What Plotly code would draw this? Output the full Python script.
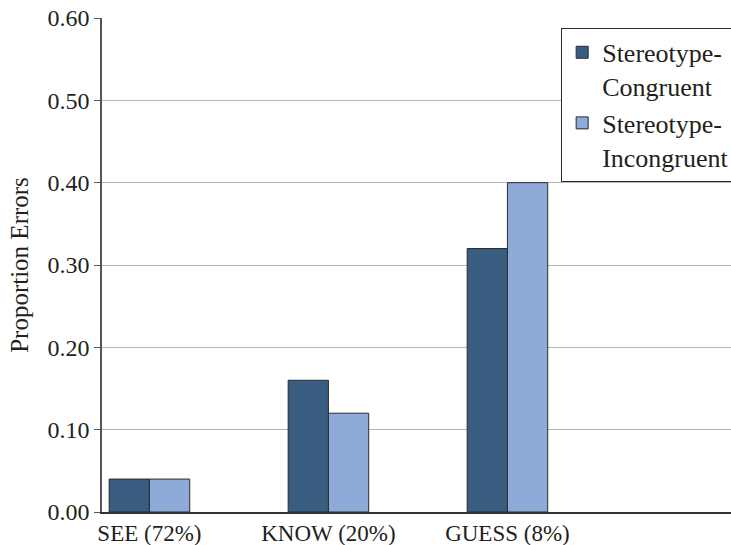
import plotly.graph_objects as go

categories = ["SEE (72%)", "KNOW (20%)", "GUESS (8%)"]
congruent = [0.04, 0.16, 0.32]
incongruent = [0.04, 0.12, 0.40]
series_names = ["Stereotype-<br>Congruent", "Stereotype-<br>Incongruent"]
y_ticks = [0.0, 0.1, 0.2, 0.3, 0.4, 0.5, 0.6]
y_ticktext = ["0.00", "0.10", "0.20", "0.30", "0.40", "0.50", "0.60"]

positions = list(range(len(categories)))
FONT = "Liberation Serif, Times New Roman, serif"

fig = go.Figure()
fig.add_trace(go.Bar(
    x=positions, y=congruent, name=series_names[0],
    marker=dict(color="#385d80", line=dict(color="#2b2b2b", width=1)),
))
fig.add_trace(go.Bar(
    x=positions, y=incongruent, name=series_names[1],
    marker=dict(color="#8eaad9", line=dict(color="#2b2b2b", width=1)),
))

fig.update_layout(
    width=731, height=545,
    margin=dict(l=102, r=0, t=18, b=33, autoexpand=False),
    paper_bgcolor="white", plot_bgcolor="white",
    barmode="group", bargap=0.55, bargroupgap=0,
    font=dict(family=FONT, color="#231f20", size=22),
    legend=dict(
        x=0.73, y=0.98, xanchor="left", yanchor="top",
        bgcolor="white", bordercolor="#2b2b2b", borderwidth=1,
        font=dict(family=FONT, size=26, color="#231f20"),
        valign="top", tracegroupgap=0,
    ),
    showlegend=True,
)
fig.update_xaxes(
    range=[-0.265, 3.249],
    tickvals=positions, ticktext=categories,
    tickfont=dict(family=FONT, size=23),
    showgrid=False, zeroline=False,
    showline=True, linecolor="#333333", linewidth=1.5,
    ticks="", ticklen=0, automargin=False,
)
fig.update_yaxes(
    range=[0, 0.6],
    tickvals=y_ticks, ticktext=y_ticktext,
    tickfont=dict(family=FONT, size=24),
    showgrid=True, gridcolor="#b5b5b5", gridwidth=1,
    zeroline=False,
    showline=True, linecolor="#555555", linewidth=1.5,
    ticks="outside", ticklen=6, tickcolor="#555555",
    title=dict(text="Proportion Errors", font=dict(family=FONT, size=25), standoff=12),
    automargin=False,
)

fig.write_html("out.html", config={"displayModeBar": False},
               post_script="document.body.style.margin='0';")
